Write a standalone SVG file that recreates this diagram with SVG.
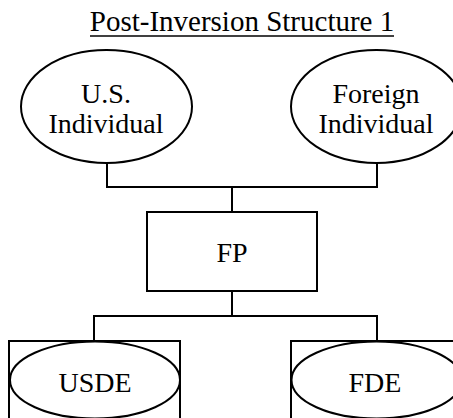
<svg xmlns="http://www.w3.org/2000/svg" width="453" height="418" viewBox="0 0 453 418">
<style>
text{font-family:"Liberation Serif","Times New Roman",serif;font-size:28px;fill:#000;text-anchor:middle}
.title{font-size:29px}
.shape{fill:#fff;stroke:#000;stroke-width:2}
.conn{fill:none;stroke:#000;stroke-width:2}
</style>
<rect width="453" height="418" fill="#fff"/>
<g id="title">
<text class="title" x="242" y="31">Post-Inversion Structure 1</text>
<line x1="90" y1="36" x2="394" y2="36" stroke="#000" stroke-width="1.6"/>
</g>
<g id="connectors">
<polyline class="conn" points="107,163 107,187 377,187 377,163"/>
<line class="conn" x1="232" y1="187" x2="232" y2="212"/>
<line class="conn" x1="232" y1="291" x2="232" y2="316"/>
<polyline class="conn" points="94,341 94,316 377,316 377,341"/>
</g>
<g id="us-individual">
<ellipse class="shape" cx="106.5" cy="106.5" rx="85.5" ry="56.5"/>
<text x="106" y="103">U.S.</text>
<text x="106" y="133">Individual</text>
</g>
<g id="foreign-individual">
<ellipse class="shape" cx="376.5" cy="106.5" rx="85.5" ry="56.5"/>
<text x="376" y="103">Foreign</text>
<text x="376" y="133">Individual</text>
</g>
<g id="fp">
<rect class="shape" x="147" y="212" width="170" height="79"/>
<text x="232" y="262">FP</text>
</g>
<g id="usde">
<rect class="shape" x="9" y="341" width="171" height="100"/>
<ellipse class="shape" cx="95" cy="380" rx="85" ry="38.5"/>
<text x="95" y="392">USDE</text>
</g>
<g id="fde">
<rect class="shape" x="291" y="341" width="171" height="100"/>
<ellipse class="shape" cx="376.5" cy="380" rx="85" ry="38.5"/>
<text x="375" y="392">FDE</text>
</g>
</svg>
